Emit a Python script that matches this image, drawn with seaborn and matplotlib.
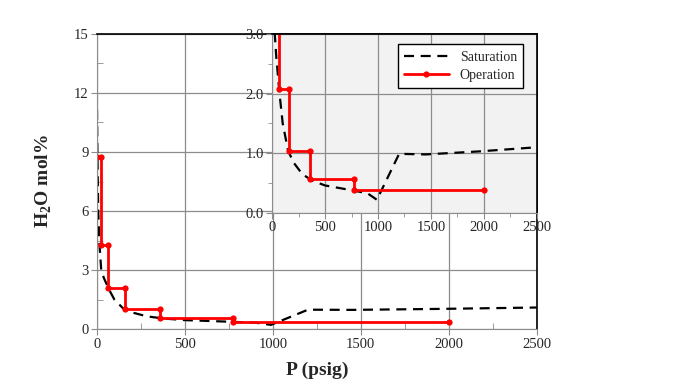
import numpy as np
import pandas as pd
import seaborn as sns
import matplotlib.pyplot as plt
from matplotlib.ticker import MultipleLocator, FormatStrFormatter

# saturation water content vs pressure
sat_p = [0, 3, 8, 15, 25, 40, 55, 70, 100, 150, 200, 285, 380, 500, 750, 900, 990, 1200, 1450, 1950, 2500]
sat_y = [12.0, 9.0, 6.0, 4.3, 3.0, 2.6, 2.3, 2.0, 1.5, 1.05, 0.85, 0.65, 0.54, 0.46, 0.38, 0.33, 0.22, 0.99, 0.98, 1.03, 1.10]

# operating staircase
op_p = [3, 25, 25, 63, 63, 158, 158, 360, 360, 775, 775, 2000]
op_y = [8.76, 8.76, 4.27, 4.27, 2.08, 2.08, 1.04, 1.04, 0.57, 0.57, 0.38, 0.38]

sat = pd.DataFrame({"P": sat_p, "y": sat_y})
op = pd.DataFrame({"P": op_p, "y": op_y})

sns.set_style("white")
plt.rcParams['font.family'] = ['Liberation Serif', 'DejaVu Serif']
plt.rcParams['mathtext.fontset'] = 'custom'
plt.rcParams['mathtext.rm'] = 'Liberation Serif'
plt.rcParams['mathtext.bf'] = 'Liberation Serif:bold'

fig = plt.figure(figsize=(6.82, 3.85), dpi=100)
ax = fig.add_axes([0.142, 0.145, 0.645, 0.767])
ins = fig.add_axes([0.399, 0.447, 0.388, 0.465])


def draw(a, legend):
    sns.lineplot(data=sat, x="P", y="y", ax=a, estimator=None, sort=False,
                 color="black", lw=1.6, dashes=False, label="Saturation" if legend else None)
    a.lines[-1].set_dashes((4.5, 3))
    sns.lineplot(data=op, x="P", y="y", ax=a, estimator=None, sort=False,
                 color="#ff0000", lw=2, marker="o", markersize=4.5, markeredgewidth=0,
                 label="Operation" if legend else None)


def style(a, ymax, ymaj, ymin, fmt, face):
    a.set_facecolor(face)
    a.set_xlim(0, 2500)
    a.set_ylim(0, ymax)
    a.xaxis.set_major_locator(MultipleLocator(500))
    a.xaxis.set_minor_locator(MultipleLocator(250))
    a.yaxis.set_major_locator(MultipleLocator(ymaj))
    a.yaxis.set_minor_locator(MultipleLocator(ymin))
    a.yaxis.set_major_formatter(FormatStrFormatter(fmt))
    a.grid(True, which="major", color="#8c8c8c", lw=0.9)
    a.set_axisbelow(True)
    a.tick_params(which="major", direction="out", length=4, color="#8c8c8c", labelsize=10.5, pad=2)
    a.tick_params(which="minor", direction="in", length=4, color="#8c8c8c")
    a.tick_params(left=True, bottom=True, which="both")
    for s in ["left", "bottom"]:
        a.spines[s].set_color("#8c8c8c")
    for s in ["top", "right"]:
        a.spines[s].set_color("black")
        a.spines[s].set_linewidth(1.2)
    a.set_xlabel("")
    a.set_ylabel("")


draw(ax, False)
style(ax, 15, 3, 1.5, "%d", "white")
ax.set_xlabel("P (psig)", fontsize=14, fontweight="bold", labelpad=8)
ax.set_ylabel("H$_\\mathbf{2}$O mol%", fontsize=14, fontweight="bold", labelpad=14)

draw(ins, True)
style(ins, 3, 1, 0.5, "%.1f", "#f2f2f2")
ins.tick_params(which="minor", direction="out", length=3)
leg = ins.legend(loc="upper right", bbox_to_anchor=(0.975, 0.98), fontsize=10, frameon=True,
                 fancybox=False, edgecolor="black", framealpha=1, borderpad=0.45,
                 handlelength=3.2, labelspacing=0.4)
leg.get_frame().set_linewidth(1.0)

fig.savefig("out.png", dpi=100)
